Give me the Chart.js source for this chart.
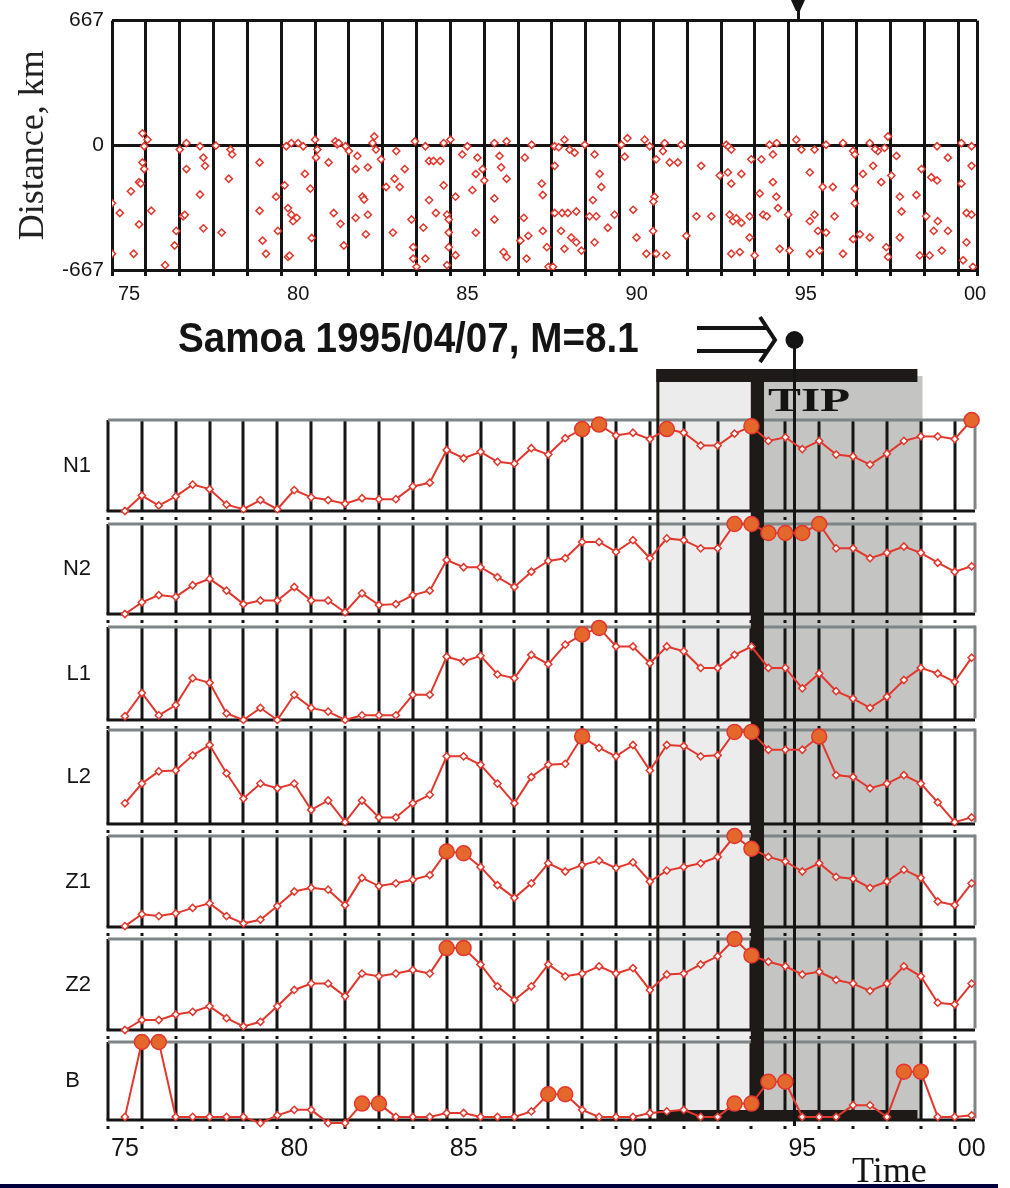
<!DOCTYPE html>
<html>
<head>
<meta charset="utf-8">
<script src="https://cdn.jsdelivr.net/npm/chart.js@4.4.1/dist/chart.umd.min.js"></script>
<style>
  body { margin: 0; background: #fff; }
  #wrap { position: relative; width: 1010px; height: 1188px; overflow: hidden; }
  canvas { position: absolute; left: 0; }
  #top { top: 0; }
  #panels { top: 305px; }
</style>
</head>
<body>
<div id="wrap">
  <canvas id="top" width="1010" height="305"></canvas>
  <canvas id="panels" width="1010" height="883"></canvas>
</div>
<script>
// ---- data ----
const gridYears = [75, 76, 77, 78, 79, 80, 81, 82, 83, 84, 85, 86, 87, 88, 89, 90, 91, 92, 93, 94, 95, 96, 97, 98, 99, 100];
const labelYears = [75, 80, 85, 90, 95, 100];
const labelText = ['75', '80', '85', '90', '95', '00'];
const distTicks = [-667, 0, 667];

// events in the 1334 km band: [year, distance km]
const quakes = [
  [75.0,-310],[75.23,-362],[75.0,-580],[75.56,-246],[75.64,-580],[75.8,-423],[75.9,64],[76.05,30],[75.95,-5],[75.9,-92],[75.95,-127],[75.8,-197],[75.85,-205],[76.16,-350],[76.57,-641],
  [77.0,-23],[77.2,12],[77.2,-127],[77.1,-380],[77.15,-372],[76.9,-458],[76.85,-536],[77.6,-5],[77.7,-66],[77.75,-110],[77.6,-263],[77.7,-444],
  [78.07,-2],[78.5,-23],[78.55,-49],[78.45,-179],[78.24,-467],
  [79.36,-92],[79.36,-350],[79.45,-510],[79.55,-580],[79.9,-458],[79.85,-275],
  [80.1,-214],[80.2,-336],[80.3,-371],[80.46,-388],[80.35,-406],[80.2,-597],[80.25,-590],[80.15,-5],[80.3,12],[80.5,12],[80.65,-5],[80.7,-153],[80.86,-232],[80.9,-496],[81.0,30],[81.07,-23],[81.03,-66],
  [81.4,-92],[81.6,21],[81.65,5],[81.7,12],[81.9,-5],[81.55,-362],[81.75,-420],[81.85,-536],[82.0,-31],
  [82.2,-127],[82.56,-118],[82.25,-57],[82.4,-275],[82.45,-290],[82.56,-371],[82.2,-388],[82.5,-476],[82.7,12],[82.75,47],[82.8,-23],[82.95,-75],
  [83.4,-31],[83.35,-179],[83.5,-223],[83.1,-223],[83.65,-127],[83.3,-467],[83.85,-397],[83.9,-545],[83.9,-606],[84.0,-650],[83.95,21],
  [84.26,-5],[84.37,-84],[84.5,-84],[84.7,-84],[84.2,-440],[84.26,-606],[84.37,-293],[84.57,-362],[84.9,-371],[84.95,-397],[84.95,-467],[84.95,-545],[84.9,-641],[84.8,-214],[84.8,12],[85.0,30],
  [85.15,-275],[85.15,-588],[85.35,-49],[85.5,-5],[85.65,-240],[85.8,-66],[85.75,-153],[85.95,-127],[86.0,-188],[85.75,-467],
  [86.3,12],[86.45,-57],[86.66,21],[86.5,-118],[86.66,-179],[86.3,-284],[86.3,-397],[86.57,-571],[86.66,-597],[87.07,-510],[87.17,-388],[87.2,-66],[87.4,3],[87.3,-484],[87.25,-606],[87.7,-205],[87.73,-266],[87.73,-458],[87.85,-545],[87.9,-650],
  [88.03,-650],[88.08,-5],[88.2,-10],[88.37,30],[88.52,-23],[88.67,-40],[88.08,-110],[88.08,-362],[88.3,-362],[88.47,-362],[88.72,-354],[88.27,-458],[88.57,-493],[88.72,-519],[88.87,-563],[88.37,-554],[88.97,3],
  [89.26,-49],[89.41,-153],[89.46,-223],[89.21,-293],[89.31,-380],[89.11,-380],[89.85,-371],[89.65,-441],[89.26,-519],
  [90.23,38],[90.05,3],[90.15,-61],[90.74,30],[90.89,-5],[90.4,-345],[90.5,-493],[90.79,-580],[90.99,-458],[91.03,-275],[91.0,-301],
  [91.33,12],[91.28,-31],[91.08,-75],[91.48,-92],[91.72,-92],[91.82,3],[91.08,-580],[91.38,-589],[91.97,-484],
  [92.41,-110],[92.27,-380],[92.71,-380],[92.96,-162],
  [93.15,3],[93.22,-8],[93.3,-23],[93.2,-145],[93.6,-153],[93.3,-205],[93.25,-371],[93.35,-406],[93.45,-390],[93.6,-415],[93.84,-380],[93.84,-493],[93.3,-580],[93.55,-571],[93.99,-589],[93.89,-75],
  [94.19,-75],[94.43,3],[94.64,12],[94.53,-49],[94.14,-258],[94.53,-197],[94.63,-275],[94.68,-336],[94.24,-371],[94.35,-380],[94.98,-371],[94.73,-554],[95.02,-563],
  [95.22,30],[95.37,-23],[95.76,-23],[96.1,3],[95.62,-145],[95.62,-406],[95.76,-371],[95.86,-458],[95.62,-580],[95.91,-563],[96.0,-223],
  [96.3,-223],[96.6,12],[96.9,-30],[96.95,-49],[96.35,-380],[96.1,-467],[96.6,-580],[96.95,-232],[96.95,-310],[97.1,-476],[96.9,-502],
  [97.39,12],[97.63,-31],[97.55,-20],[97.93,47],[97.83,-14],[97.49,-110],[97.19,-153],[97.73,-197],[98.03,-162],[97.88,-545],[97.93,-597],[97.39,-493],
  [98.18,-57],[98.28,-275],[98.33,-354],[98.28,-493],[98.77,-266],[98.92,-127],[99.06,-380],[98.87,-589],
  [99.21,-171],[99.38,-188],[99.38,-5],[99.7,-66],[99.4,-406],[99.28,-458],[99.7,-458],[99.16,-589],[99.52,-563],
  [100.1,12],[100.4,-5],[100.4,-110],[100.1,-205],[100.25,-362],[100.4,-371],[100.25,-519],[100.15,-615],[100.44,-650]
];

// half-year samples for the seven functions (0 = base line, 1 = top line of the panel)
const sampleYears = [75.5, 76, 76.5, 77, 77.5, 78, 78.5, 79, 79.5, 80, 80.5, 81, 81.5, 82, 82.5, 83, 83.5,
  84, 84.5, 85, 85.5, 86, 86.5, 87, 87.5, 88, 88.5, 89, 89.5, 90, 90.5, 91, 91.5, 92, 92.5, 93, 93.5,
  94, 94.5, 95, 95.5, 96, 96.5, 97, 97.5, 98, 98.5, 99, 99.5, 100, 100.5];

const n1 = [0.0, 0.17, 0.06, 0.16, 0.29, 0.24, 0.07, 0.02, 0.12, 0.02, 0.23, 0.15, 0.12, 0.08, 0.14, 0.13, 0.13,
  0.27, 0.31, 0.67, 0.58, 0.65, 0.54, 0.52, 0.69, 0.62, 0.80, 0.90, 0.95, 0.83, 0.86, 0.79, 0.90, 0.86, 0.72, 0.72, 0.85,
  0.93, 0.77, 0.81, 0.68, 0.77, 0.62, 0.60, 0.51, 0.63, 0.77, 0.82, 0.82, 0.79, 1.0];
const n2 = [0.0, 0.13, 0.21, 0.19, 0.32, 0.39, 0.26, 0.11, 0.15, 0.15, 0.30, 0.15, 0.15, 0.02, 0.23, 0.10, 0.11,
  0.21, 0.26, 0.60, 0.52, 0.52, 0.41, 0.30, 0.47, 0.59, 0.62, 0.80, 0.80, 0.69, 0.82, 0.62, 0.84, 0.82, 0.73, 0.73, 1.0,
  1.0, 0.90, 0.90, 0.90, 1.0, 0.73, 0.73, 0.62, 0.68, 0.75, 0.68, 0.57, 0.47, 0.53];
const l1 = [0.04, 0.29, 0.05, 0.16, 0.45, 0.40, 0.07, 0.0, 0.13, 0.0, 0.27, 0.13, 0.09, 0.0, 0.05, 0.05, 0.05,
  0.27, 0.27, 0.68, 0.63, 0.69, 0.49, 0.45, 0.70, 0.60, 0.81, 0.92, 0.99, 0.79, 0.79, 0.61, 0.79, 0.74, 0.56, 0.56, 0.70,
  0.79, 0.56, 0.56, 0.34, 0.50, 0.31, 0.23, 0.13, 0.25, 0.43, 0.56, 0.50, 0.41, 0.67];
const l2 = [0.22, 0.43, 0.56, 0.57, 0.73, 0.84, 0.54, 0.27, 0.43, 0.38, 0.43, 0.15, 0.25, 0.02, 0.25, 0.07, 0.07,
  0.22, 0.31, 0.72, 0.72, 0.63, 0.43, 0.22, 0.50, 0.63, 0.64, 0.93, 0.81, 0.72, 0.84, 0.57, 0.84, 0.83, 0.72, 0.73, 0.98,
  0.98, 0.79, 0.79, 0.79, 0.93, 0.52, 0.50, 0.38, 0.43, 0.52, 0.43, 0.23, 0.02, 0.07];
const z1 = [0.01, 0.14, 0.12, 0.15, 0.21, 0.26, 0.12, 0.04, 0.08, 0.23, 0.39, 0.43, 0.41, 0.24, 0.54, 0.45, 0.48,
  0.52, 0.57, 0.83, 0.81, 0.66, 0.46, 0.32, 0.48, 0.70, 0.61, 0.68, 0.73, 0.65, 0.71, 0.50, 0.62, 0.66, 0.70, 0.77, 1.0,
  0.86, 0.77, 0.72, 0.61, 0.70, 0.55, 0.53, 0.43, 0.50, 0.63, 0.54, 0.28, 0.24, 0.48];
const z2 = [0.0, 0.11, 0.11, 0.17, 0.20, 0.26, 0.13, 0.04, 0.09, 0.26, 0.44, 0.51, 0.51, 0.37, 0.62, 0.59, 0.62,
  0.66, 0.62, 0.90, 0.90, 0.72, 0.48, 0.33, 0.48, 0.72, 0.59, 0.62, 0.70, 0.62, 0.68, 0.44, 0.61, 0.62, 0.72, 0.81, 1.0,
  0.82, 0.75, 0.70, 0.61, 0.64, 0.55, 0.51, 0.43, 0.51, 0.70, 0.59, 0.30, 0.28, 0.51];
const bb = [0.04, 1.0, 1.0, 0.04, 0.04, 0.04, 0.04, 0.04, -0.04, 0.06, 0.13, 0.13, -0.04, -0.04, 0.21, 0.21, 0.04,
  0.04, 0.04, 0.09, 0.09, 0.04, 0.04, 0.04, 0.11, 0.33, 0.33, 0.13, 0.04, 0.04, 0.04, 0.09, 0.11, 0.13, 0.04, 0.04, 0.21,
  0.21, 0.49, 0.49, 0.04, 0.04, 0.04, 0.19, 0.19, 0.04, 0.62, 0.62, 0.04, 0.04, 0.06];

// samples flagged as "very large" (big orange dots)
const n1Big = [89, 89.5, 91.5, 94, 100.5];
const n2Big = [93.5, 94, 94.5, 95, 95.5, 96];
const l1Big = [89, 89.5];
const l2Big = [89, 93.5, 94, 96];
const z1Big = [85, 85.5, 93.5, 94];
const z2Big = [85, 85.5, 93.5, 94];
const bBig = [76, 76.5, 82.5, 83, 88, 88.5, 93.5, 94, 94.5, 95, 98.5, 99];

const panelNames = ['N1', 'N2', 'L1', 'L2', 'Z1', 'Z2', 'B'];
const panelSeries = [n1, n2, l1, l2, z1, z2, bb];
const panelBig = [n1Big, n2Big, l1Big, l2Big, z1Big, z2Big, bBig];

// TIP timing (years)
const tipStart = 91.25, tipMark = [93.98, 94.37], tipEnd = 99.05, barEnd = 98.9;
const quakeTime = 95.27;

// ---- look ----
const RED = '#e2372d';
const ORANGE = '#e4672c';
const INK = '#141414';
Chart.defaults.font.family = "'Liberation Sans', Arial, sans-serif";
Chart.defaults.color = INK;

// panel bands in px and the room under each base line
const panelBand = [104, 103, 103, 106, 103, 103, 78];
const panelFloor = [-0.143, -0.144, -0.108, -0.128, -0.132, -0.132, 0];
const panelIds = panelNames.map(n => 'y' + n);

// ---- top chart: events ----
const pin = {
  id: 'pin',
  afterDraw(chart) {
    const ctx = chart.ctx;
    const x = chart.scales.x.getPixelForValue(quakeTime);
    ctx.save();
    ctx.fillStyle = INK;
    ctx.beginPath();
    ctx.moveTo(x - 7, 0); ctx.lineTo(x + 7, 0); ctx.lineTo(x + 2, 11); ctx.lineTo(x - 2, 11);
    ctx.closePath(); ctx.fill();
    ctx.fillRect(x - 1, 8, 3, 11);
    ctx.restore();
  }
};

new Chart(document.getElementById('top'), {
  type: 'scatter',
  data: {
    datasets: [{
      data: quakes.map(q => ({ x: q[0], y: q[1] })),
      pointStyle: 'rectRot',
      pointRadius: 3.6,
      borderWidth: 1.5,
      borderColor: RED,
      backgroundColor: '#fff'
    }]
  },
  options: {
    responsive: false,
    animation: false,
    layout: { padding: { top: 15, right: 33, left: 0, bottom: 0 } },
    plugins: { legend: { display: false }, tooltip: { enabled: false } },
    scales: {
      x: {
        type: 'linear', min: 75, max: 100.56,
        afterBuildTicks: s => { s.ticks = gridYears.concat([s.max]).map(v => ({ value: v })); },
        afterFit: s => { s.height = 35; },
        ticks: {
          autoSkip: false, maxRotation: 0, labelOffset: 17, padding: 6,
          font: { size: 20 },
          callback: v => { const i = labelYears.indexOf(v); return i >= 0 ? labelText[i] : ''; }
        },
        grid: { color: INK, lineWidth: 3, tickLength: 6, tickColor: INK, tickWidth: 3 },
        border: { display: false }
      },
      y: {
        min: -667, max: 667,
        afterBuildTicks: s => { s.ticks = distTicks.map(v => ({ value: v })); },
        afterFit: s => { s.width = 112; },
        ticks: { font: { size: 21 }, padding: 8 },
        grid: { color: INK, lineWidth: 3, drawTicks: false },
        border: { display: false },
        title: {
          display: true, text: 'Distance, km', color: '#222',
          font: { family: "'Liberation Serif', 'Times New Roman', serif", size: 36 },
          padding: { top: 12, bottom: 0 }
        }
      }
    }
  },
  plugins: [pin]
});

// ---- lower chart: seven functions ----
const panelDecor = {
  id: 'panelDecor',
  beforeDatasetsDraw(chart) {
    const ctx = chart.ctx;
    const xs = chart.scales.x;
    const X = v => xs.getPixelForValue(v);
    const top = chart.chartArea.top;
    const bottom = chart.scales.yB.getPixelForValue(0);
    const years = xs.ticks.map(t => t.value).filter(v => v % 1 === 0);
    ctx.save();

    // TIP shading
    ctx.fillStyle = '#ececec';
    ctx.fillRect(X(tipStart), top - 38, X(tipMark[0]) - X(tipStart), bottom - top + 38);
    ctx.fillStyle = '#c4c4c2';
    ctx.fillRect(X(tipMark[1]), top - 44, X(tipEnd) - X(tipMark[1]), bottom - top + 44);

    // panel frames and year lines
    panelIds.forEach(id => {
      const ys = chart.scales[id];
      const pt = ys.getPixelForValue(1), pb = ys.getPixelForValue(0);
      ctx.fillStyle = INK;
      years.forEach(v => {
        const x = Math.round(X(v));
        ctx.fillRect(x - 1.5, pt, 3, pb - pt);
        ctx.fillRect(x - 1.5, pb + 6, 3, 3);
      });
      ctx.fillRect(xs.left - 1.5, pb - 1.5, xs.right - xs.left + 1.5, 3);
      ctx.fillStyle = '#7f8486';
      ctx.fillRect(xs.left, pt - 1.5, xs.right - xs.left, 3);
      ctx.fillRect(xs.right - 1.5, pt - 1.5, 3, pb - pt);
    });

    // TIP bars
    ctx.fillStyle = '#1e1a18';
    ctx.fillRect(X(tipMark[0]), top - 51, X(tipMark[1]) - X(tipMark[0]), bottom - top + 51);
    ctx.fillRect(X(tipStart) - 2, top - 51, X(barEnd) - X(tipStart) + 2, 13);
    ctx.fillRect(X(tipStart) - 2, top - 51, 3, bottom - top + 51);
    ctx.fillRect(X(tipStart), bottom - 10, X(barEnd) - X(tipStart), 10);

    ctx.fillStyle = INK;
    ctx.font = "bold 34px 'Liberation Serif', serif";
    ctx.textBaseline = 'alphabetic';
    ctx.save();
    ctx.translate(X(tipMark[1]) + 4, top - 9);
    ctx.scale(1.45, 1);
    ctx.fillText('TIP', 0, 0);
    ctx.restore();

    // earthquake time
    const qx = X(quakeTime);
    ctx.fillRect(qx - 1.5, top - 80, 3, bottom - top + 86);
    ctx.beginPath();
    ctx.arc(qx, top - 80, 9, 0, Math.PI * 2);
    ctx.fill();

    // title and arrow
    ctx.save();
    ctx.font = "bold 42px 'Liberation Sans', Arial, sans-serif";
    ctx.translate(178, top - 68);
    ctx.scale(0.92, 1);
    ctx.fillText('Samoa 1995/04/07, M=8.1', 0, 0);
    ctx.restore();

    ctx.strokeStyle = INK;
    ctx.lineWidth = 4;
    ctx.beginPath();
    ctx.moveTo(697, top - 92); ctx.lineTo(768, top - 92);
    ctx.moveTo(697, top - 69); ctx.lineTo(768, top - 69);
    ctx.moveTo(760, top - 103); ctx.lineTo(775, top - 80); ctx.lineTo(760, top - 58);
    ctx.stroke();

    // axis name and frame line
    ctx.font = "36px 'Liberation Serif', 'Times New Roman', serif";
    ctx.fillText('Time', 852, bottom + 62);
    ctx.fillStyle = '#00003c';
    ctx.fillRect(0, bottom + 64, 998, 5);
    ctx.restore();
  }
};

const yScales = {};
panelIds.forEach((id, i) => {
  yScales[id] = {
    type: 'linear',
    position: 'left',
    stack: 'panels',
    stackWeight: panelBand[i],
    weight: panelIds.length - i,
    min: panelFloor[i],
    max: 1,
    afterBuildTicks: s => { s.ticks = [{ value: 0.5 }]; },
    afterFit: s => { s.width = 108; },
    ticks: { font: { size: 22 }, padding: i === 6 ? 20 : 9, callback: () => panelNames[i] },
    grid: { display: false },
    border: { display: false }
  };
});

new Chart(document.getElementById('panels'), {
  type: 'line',
  data: {
    datasets: panelSeries.map((vals, i) => {
      const big = panelBig[i];
      const isBig = c => c.raw && big.includes(c.raw.x);
      return {
        data: sampleYears.map((t, k) => ({ x: t, y: vals[k] })),
        yAxisID: panelIds[i],
        borderColor: RED,
        borderWidth: 2,
        tension: 0,
        clip: false,
        pointStyle: c => isBig(c) ? 'circle' : 'rectRot',
        pointRadius: c => isBig(c) ? 7.5 : 3.6,
        pointBackgroundColor: c => isBig(c) ? ORANGE : '#fff',
        pointBorderColor: RED,
        pointBorderWidth: 1.5
      };
    })
  },
  options: {
    responsive: false,
    animation: false,
    layout: { padding: { top: 115, right: 35, left: 0, bottom: 0 } },
    plugins: { legend: { display: false }, tooltip: { enabled: false } },
    scales: Object.assign({
      x: {
        type: 'linear', min: 75, max: 100.6,
        afterBuildTicks: s => { s.ticks = gridYears.map(v => ({ value: v })); },
        afterFit: s => { s.height = 68; },
        ticks: {
          autoSkip: false, maxRotation: 0, labelOffset: 17, padding: 6,
          font: { size: 25 },
          callback: v => { const i = labelYears.indexOf(v); return i >= 0 ? labelText[i] : ''; }
        },
        grid: { display: false },
        border: { display: false }
      }
    }, yScales)
  },
  plugins: [panelDecor]
});
</script>
</body>
</html>
